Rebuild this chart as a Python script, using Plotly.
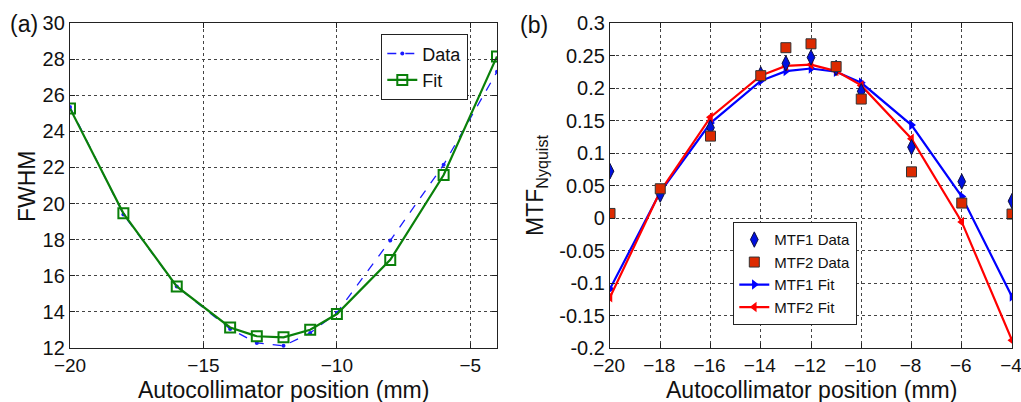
import plotly.graph_objects as go

# Panel (a): FWHM vs autocollimator position
pos_a = [-20, -18, -16, -14, -13, -12, -11, -10, -8, -6, -4]
fwhm_data = [25.35, 19.4, 15.4, 13.05, 12.28, 12.12, 12.83, 13.95, 17.95, 22.15, 27.3]
fwhm_fit = [25.27, 19.46, 15.41, 13.14, 12.65, 12.59, 13.01, 13.88, 16.88, 21.58, 28.15]

# Panel (b): MTF at Nyquist vs autocollimator position
pos_b = [-20, -18, -16, -14, -13, -12, -11, -10, -8, -6, -4]
mtf1_data = [0.072, 0.036, 0.139, 0.221, 0.238, 0.247, 0.231, 0.195, 0.109, 0.056, 0.026]
mtf2_data = [0.007, 0.045, 0.126, 0.219, 0.262, 0.268, 0.233, 0.183, 0.071, 0.023, 0.006]
mtf1_fit = [-0.109, 0.040, 0.146, 0.211, 0.226, 0.230, 0.225, 0.208, 0.143, 0.033, -0.121]
mtf2_fit = [-0.122, 0.041, 0.155, 0.219, 0.234, 0.236, 0.226, 0.204, 0.122, -0.006, -0.188]

ticks_a_y = [12, 14, 16, 18, 20, 22, 24, 26, 28, 30]
ticks_a_x = [-20, -15, -10, -5]
ticks_b_y = [-0.2, -0.15, -0.1, -0.05, 0, 0.05, 0.1, 0.15, 0.2, 0.25, 0.3]
ticks_b_y_text = ["-0.2", "-0.15", "-0.1", "-0.05", "0", "0.05", "0.1", "0.15", "0.2", "0.25", "0.3"]
ticks_b_x = [-20, -18, -16, -14, -12, -10, -8, -6, -4]

FONT = "Liberation Sans, Arial, sans-serif"
W, H = 1021, 402
# plot-area frame in pixels
ML, MR, MT, MB = 70, 9, 23, 54
IW = W - ML - MR
IH = H - MT - MB


def px_x(p):
    """Page pixel column -> paper x (paper spans the plot area)."""
    return (p - ML) / IW


def px_y(p):
    """Page pixel row -> paper y."""
    return (H - MB - p) / IH


fig = go.Figure()

fig.add_trace(go.Scatter(
    x=pos_a, y=fwhm_data, name="Data", mode="lines+markers",
    line=dict(color="#1a1aff", width=1.3, dash="dash"),
    marker=dict(symbol="circle", size=4, color="#1a1aff"),
    xaxis="x", yaxis="y", legend="legend"))
fig.add_trace(go.Scatter(
    x=pos_a, y=fwhm_fit, name="Fit", mode="lines+markers",
    line=dict(color="#0a800a", width=2.2),
    marker=dict(symbol="square-open", size=10, color="#0a800a", line=dict(width=2)),
    xaxis="x", yaxis="y", legend="legend"))

fig.add_trace(go.Scatter(
    x=pos_b, y=mtf1_fit, name="MTF1 Fit", mode="lines+markers",
    line=dict(color="#0000ff", width=2.2),
    marker=dict(symbol="triangle-right", size=9, color="#0000ff"),
    xaxis="x2", yaxis="y2", legend="legend2", showlegend=False))
fig.add_trace(go.Scatter(
    x=pos_b, y=mtf2_fit, name="MTF2 Fit", mode="lines+markers",
    line=dict(color="#ff0000", width=2.2),
    marker=dict(symbol="triangle-left", size=9, color="#ff0000"),
    xaxis="x2", yaxis="y2", legend="legend2", showlegend=False))
fig.add_trace(go.Scatter(
    x=pos_b, y=mtf1_data, name="MTF1 Data", mode="markers",
    marker=dict(symbol="diamond-tall", size=11, color="#0010e0",
                line=dict(color="#101040", width=1)),
    xaxis="x2", yaxis="y2", legend="legend2"))
fig.add_trace(go.Scatter(
    x=pos_b, y=mtf2_data, name="MTF2 Data", mode="markers",
    marker=dict(symbol="square", size=10, color="#dd2a00",
                line=dict(color="#333333", width=1)),
    xaxis="x2", yaxis="y2", legend="legend2"))
# legend-only copies so the fit entries follow the data entries
fig.add_trace(go.Scatter(
    x=[None], y=[None], name="MTF1 Fit", mode="lines+markers",
    line=dict(color="#0000ff", width=2.2),
    marker=dict(symbol="triangle-right", size=9, color="#0000ff"),
    xaxis="x2", yaxis="y2", legend="legend2"))
fig.add_trace(go.Scatter(
    x=[None], y=[None], name="MTF2 Fit", mode="lines+markers",
    line=dict(color="#ff0000", width=2.2),
    marker=dict(symbol="triangle-left", size=9, color="#ff0000"),
    xaxis="x2", yaxis="y2", legend="legend2"))

axis_common = dict(
    showline=True, linecolor="#222222", linewidth=1.3, mirror="ticks",
    ticks="inside", ticklen=5, tickcolor="#222222",
    showgrid=True, gridcolor="#444444", griddash="dot", gridwidth=1,
    zeroline=False, automargin=False, ticklabeloverflow="allow",
)
Y_TICK_FONT = dict(family=FONT, size=20, color="#111111")
X_TICK_FONT = dict(family=FONT, size=19, color="#111111")
TITLE_FONT = dict(family=FONT, size=23, color="#111111")


def label(text, x, y, angle=0, anchor="center"):
    return dict(text=text, x=px_x(x), y=px_y(y), xref="paper", yref="paper",
                xanchor=anchor, yanchor="middle", textangle=angle,
                showarrow=False, font=TITLE_FONT)


fig.update_layout(
    width=W, height=H,
    margin=dict(l=ML, r=MR, t=MT, b=MB, autoexpand=False),
    paper_bgcolor="white", plot_bgcolor="white",
    font=dict(family=FONT, color="#111111"),
    xaxis=dict(domain=[0, px_x(497)], range=[-20, -4], tickvals=ticks_a_x,
               anchor="y", tickfont=X_TICK_FONT, **axis_common),
    yaxis=dict(domain=[0, 1], range=[12, 30], tickvals=ticks_a_y,
               anchor="x", tickfont=Y_TICK_FONT, **axis_common),
    xaxis2=dict(domain=[px_x(610), 1], range=[-20, -4], tickvals=ticks_b_x,
                anchor="y2", tickfont=X_TICK_FONT, ticklabelshift=-1,
                **axis_common),
    yaxis2=dict(domain=[0, 1], range=[-0.2, 0.3], tickvals=ticks_b_y,
                ticktext=ticks_b_y_text, anchor="x2", tickfont=Y_TICK_FONT,
                **axis_common),
    legend=dict(x=px_x(381), y=px_y(34), xanchor="left", yanchor="top",
                bgcolor="white", bordercolor="#222222", borderwidth=1.3,
                font=dict(family=FONT, size=18), tracegroupgap=0),
    legend2=dict(x=px_x(733), y=px_y(222), xanchor="left", yanchor="top",
                 bgcolor="white", bordercolor="#222222", borderwidth=1.3,
                 font=dict(family=FONT, size=15), tracegroupgap=0),
    annotations=[
        label("(a)", 8, 24, anchor="left"),
        label("(b)", 518, 25, anchor="left"),
        label("Autocollimator position (mm)", 283.5, 390),
        label("Autocollimator position (mm)", 811.5, 390),
        label("FWHM", 27, 186, angle=-90),
        label("MTF<sub>Nyquist</sub>", 537, 186, angle=-90),
    ],
)

fig.write_html("out.html")
